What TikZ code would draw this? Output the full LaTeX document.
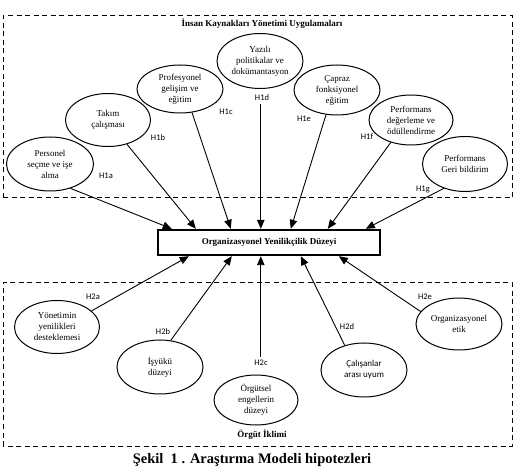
\documentclass[tikz,border=0pt]{standalone}
\usepackage{fontspec}
\setmainfont{Liberation Serif}
\newfontfamily\hfont{Carlito}
\usetikzlibrary{shapes.geometric,arrows.meta}
\tikzset{
  ell/.style={ellipse,draw,line width=1pt,inner sep=0pt,align=center,
    font=\fontsize{9}{11}\selectfont},
  hlab/.style={font=\hfont\fontsize{8.5}{10}\selectfont,inner sep=0pt},
  arr/.style={line width=0.9pt,-{Triangle[length=9pt,width=7.5pt]}},
  grp/.style={draw,line width=1pt,dash pattern=on 5pt off 3.5pt},
  mainbox/.style={draw,line width=2.4pt,minimum width=222pt,minimum height=25pt,inner sep=0pt,
    font=\bfseries\fontsize{9}{11}\selectfont},
  btitle/.style={font=\bfseries\fontsize{9}{11}\selectfont,inner sep=0pt}
}
\begin{document}
\begin{tikzpicture}[x=1pt,y=1pt]
\useasboundingbox (0,0) rectangle (514,474);
% group boxes
\draw[grp] (3,276) rectangle (512,458);
\draw[grp] (3,28) rectangle (512,191);
\node[btitle] (ttop) at (262,450) {İnsan Kaynakları Yönetimi Uygulamaları};
\node[btitle] (tbot) at (262,39) {Örgüt İklimi};
\node[font=\bfseries\fontsize{14.5}{16}\selectfont,inner sep=0pt] (cap) at (252,14) {Şekil\ \ 1 . Araştırma Modeli hipotezleri};
% central box
\node[mainbox] (box) at (269,231.5) {Organizasyonel Yenilikçilik Düzeyi};
% top ellipses
\node[ell,minimum width=87pt,minimum height=54pt] (p1) at (50,310) {Personel\\seçme ve işe\\alma};
\node[ell,minimum width=85pt,minimum height=53pt] (p2) at (108,354) {Takım\\çalışması};
\node[ell,minimum width=86pt,minimum height=48pt] (p3) at (180,385) {Profesyonel\\gelişim ve\\eğitim};
\node[ell,minimum width=86pt,minimum height=55pt] (p4) at (260,413) {Yazılı\\politikalar ve\\dokümantasyon};
\node[ell,minimum width=86pt,minimum height=50pt] (p5) at (337,384) {Çapraz\\fonksiyonel\\eğitim};
\node[ell,minimum width=84pt,minimum height=50pt] (p6) at (411,354) {Performans\\değerleme ve\\ödüllendirme};
\node[ell,minimum width=85pt,minimum height=55pt] (p7) at (465,310) {Performans\\Geri bildirim};
% bottom ellipses
\node[ell,minimum width=85pt,minimum height=53pt] (b1) at (57,147) {Yönetimin\\yenilikleri\\desteklemesi};
\node[ell,minimum width=86pt,minimum height=54pt] (b2) at (160,107) {İşyükü\\düzeyi};
\node[ell,minimum width=84pt,minimum height=50pt] (b3) at (256,74) {Örgütsel\\engellerin\\düzeyi};
\node[ell,minimum width=86pt,minimum height=54pt,font=\hfont\fontsize{9}{11}\selectfont] (b4) at (364,104) {Çalışanlar\\arası uyum};
\node[ell,minimum width=86pt,minimum height=52pt] (b5) at (459,150) {Organizasyonel\\etik};
% labels
\node[hlab] (h1a) at (106,298) {H1a};
\node[hlab] (h1b) at (158,336) {H1b};
\node[hlab] (h1c) at (226,362) {H1c};
\node[hlab] (h1d) at (262,376) {H1d};
\node[hlab] (h1e) at (304,355) {H1e};
\node[hlab] (h1f) at (367,337) {H1f};
\node[hlab] (h1g) at (423,285) {H1g};
\node[hlab] (h2a) at (93,177) {H2a};
\node[hlab] (h2b) at (163,142) {H2b};
\node[hlab] (h2c) at (261,111) {H2c};
\node[hlab] (h2d) at (347,147) {H2d};
\node[hlab] (h2e) at (425,177) {H2e};
% top arrows
\draw[arr] (p1.-50) -- ([xshift=15pt]box.north west);
\draw[arr] (p2.-52) -- ([xshift=39pt]box.north west);
\draw[arr] (p3.-63) -- ([xshift=74pt]box.north west);
\draw[arr] ([xshift=104pt,yshift=-3pt]box.north west |- h1d.south) -- ([xshift=104pt]box.north west);
\draw[arr] (p5.-114) -- ([xshift=134pt]box.north west);
\draw[arr] (p6.-132) -- ([xshift=171pt]box.north west);
\draw[arr] (p7.-131) -- ([xshift=209pt]box.north west);
% bottom arrows
\draw[arr] (b1.25) -- ([xshift=32pt]box.south west);
\draw[arr] (b2.68) -- ([xshift=75pt]box.south west);
\draw[arr] ([xshift=104pt,yshift=3pt]box.south west |- h2c.north) -- ([xshift=104pt]box.south west);
\draw[arr] (b4.128) -- ([xshift=144pt]box.south west);
\draw[arr] (b5.162) -- ([xshift=182pt]box.south west);
\end{tikzpicture}
\end{document}
